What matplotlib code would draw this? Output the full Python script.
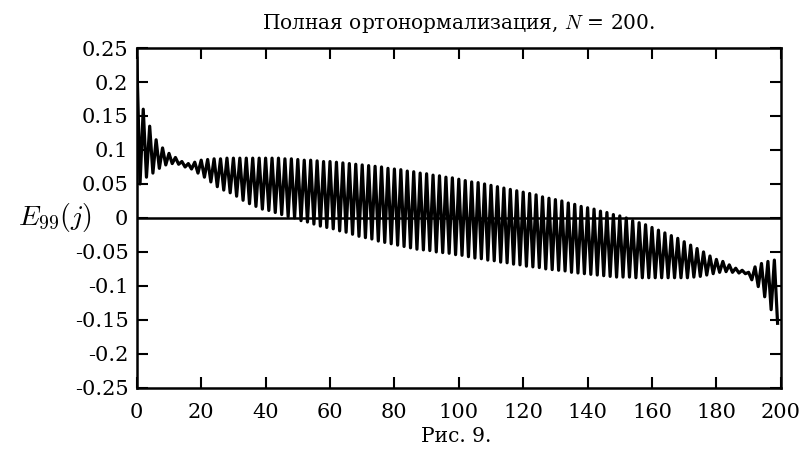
import numpy as np
import matplotlib.pyplot as plt

plt.rcParams['mathtext.fontset'] = 'cm'
plt.rcParams['axes.unicode_minus'] = False
plt.rcParams['font.family'] = 'DejaVu Serif'

# values of E_99(j) at even j = 0, 2, ..., 198
e_even = [0.235, 0.160, 0.135, 0.115, 0.103, 0.095, 0.089, 0.083, 0.080, 0.082,
          0.085, 0.086, 0.087, 0.087, 0.088, 0.088, 0.088, 0.088, 0.088, 0.088,
          0.088, 0.088, 0.088, 0.087, 0.087, 0.086, 0.085, 0.085, 0.084, 0.083,
          0.083, 0.082, 0.081, 0.080, 0.079, 0.078, 0.077, 0.076, 0.075, 0.073,
          0.072, 0.071, 0.069, 0.068, 0.066, 0.065, 0.063, 0.062, 0.060, 0.059,
          0.057, 0.055, 0.053, 0.052, 0.050, 0.048, 0.046, 0.044, 0.042, 0.040,
          0.038, 0.036, 0.034, 0.031, 0.029, 0.027, 0.025, 0.022, 0.020, 0.017,
          0.015, 0.013, 0.010, 0.008, 0.005, 0.003, 0.000, -0.004, -0.007, -0.010,
          -0.014, -0.018, -0.022, -0.026, -0.030, -0.035, -0.040, -0.045, -0.050, -0.056,
          -0.061, -0.064, -0.069, -0.074, -0.077, -0.080, -0.072, -0.067, -0.064, -0.062]

# values at odd j = 1, 3, ..., 199
e_odd = [0.050, 0.060, 0.066, 0.073, 0.078, 0.080, 0.079, 0.075, 0.072, 0.066,
         0.060, 0.053, 0.046, 0.041, 0.037, 0.032, 0.026, 0.021, 0.017, 0.013,
         0.011, 0.008, 0.005, 0.002, 0.000, -0.004, -0.006, -0.009, -0.012, -0.014,
         -0.016, -0.019, -0.021, -0.024, -0.027, -0.029, -0.031, -0.034, -0.036, -0.038,
         -0.040, -0.042, -0.044, -0.046, -0.047, -0.048, -0.050, -0.051, -0.052, -0.054,
         -0.055, -0.057, -0.059, -0.060, -0.062, -0.063, -0.065, -0.066, -0.068, -0.069,
         -0.071, -0.072, -0.073, -0.075, -0.076, -0.077, -0.078, -0.080, -0.081, -0.082,
         -0.083, -0.084, -0.085, -0.086, -0.087, -0.087, -0.087, -0.088, -0.088, -0.088,
         -0.088, -0.088, -0.088, -0.088, -0.088, -0.088, -0.087, -0.086, -0.084, -0.082,
         -0.080, -0.079, -0.080, -0.081, -0.082, -0.091, -0.101, -0.116, -0.135, -0.155]

x_ticks = [0, 20, 40, 60, 80, 100, 120, 140, 160, 180, 200]
y_ticks = [0.25, 0.2, 0.15, 0.1, 0.05, 0, -0.05, -0.1, -0.15, -0.2, -0.25]

j = np.arange(len(e_even) + len(e_odd))
E = np.empty(len(j))
E[0::2] = e_even
E[1::2] = e_odd

fig = plt.figure(figsize=(8, 4.51), dpi=100)
ax = fig.add_axes([0.171, 0.14, 0.805, 0.7535])

ax.plot(j, E, color='black', lw=2.3)
ax.axhline(0, color='black', lw=1.8)

ax.set_xlim(0, 200)
ax.set_ylim(-0.25, 0.25)
ax.set_xticks(x_ticks)
ax.set_yticks(y_ticks)
ax.set_xticklabels([str(t) for t in x_ticks])
ax.set_yticklabels(['%g' % t for t in y_ticks])
ax.tick_params(direction='in', top=True, right=True, length=8, width=1.5,
               labelsize=15, pad=6)
ax.tick_params(axis='x', pad=11)
for s in ax.spines.values():
    s.set_linewidth(1.8)

ax.set_title('Полная ортонормализация, $N$ = 200.', fontsize=14.5, pad=14)
fig.text(0.022, 1 - 217 / 451, '$E_{99}(j)$', fontsize=20, va='center', ha='left')
fig.text(0.57, 1 - 437 / 451, 'Рис. 9.', fontsize=14.5,
         va='center', ha='center')

fig.savefig('out.png', dpi=100)
